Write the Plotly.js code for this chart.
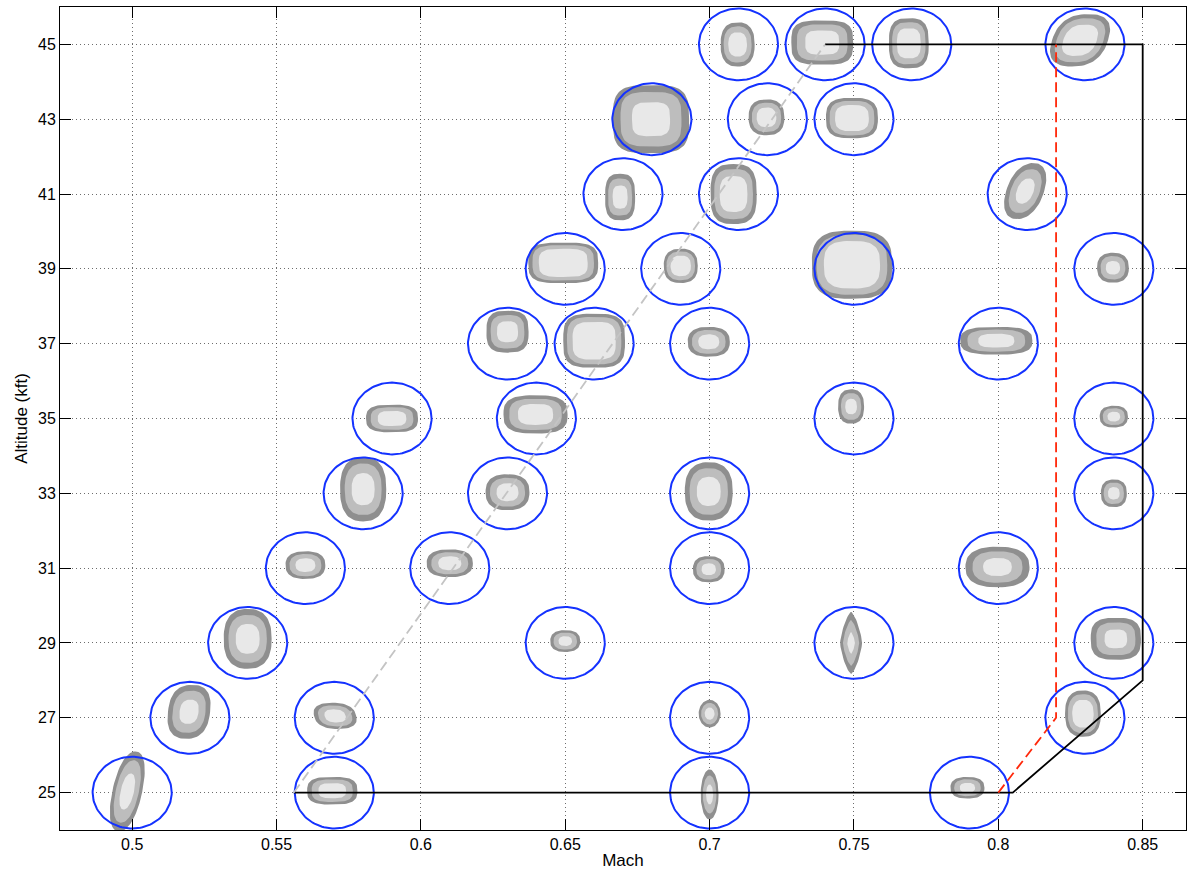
<!DOCTYPE html>
<html>
<head>
<meta charset="utf-8">
<script src="https://cdn.plot.ly/plotly-3.0.1.min.js"></script>
<style>
  html, body { margin: 0; padding: 0; background: #fff; }
  #chart { width: 1190px; height: 870px; }
</style>
</head>
<body>
<div id="chart"></div>
<script>
// Test points of the flight-test matrix (Mach, altitude in kft)
const pointMach = [0.50, 0.57, 0.70, 0.79,
                   0.52, 0.57, 0.70, 0.83,
                   0.54, 0.65, 0.75, 0.84,
                   0.56, 0.61, 0.70, 0.80,
                   0.58, 0.63, 0.70, 0.84,
                   0.59, 0.64, 0.75, 0.84,
                   0.63, 0.66, 0.70, 0.80,
                   0.65, 0.69, 0.75, 0.84,
                   0.67, 0.71, 0.81,
                   0.68, 0.72, 0.75,
                   0.71, 0.74, 0.77, 0.83];
const pointAlt  = [25, 25, 25, 25,
                   27, 27, 27, 27,
                   29, 29, 29, 29,
                   31, 31, 31, 31,
                   33, 33, 33, 33,
                   35, 35, 35, 35,
                   37, 37, 37, 37,
                   39, 39, 39, 39,
                   41, 41, 41,
                   43, 43, 43,
                   45, 45, 45, 45];

// Flown-condition scatter around each test point: centre offset and half spread
const offMach = [-0.0017, -0.0007, 0, -0.0007,
                 -0.0003, 0.0003, 0, -0.0007,
                 0, 0, -0.0010, 0.0007,
                 0, 0, -0.0003, -0.0003,
                 0, 0, -0.0003, 0,
                 0, -0.0003, -0.0010, 0,
                 0, 0, -0.0003, -0.0007,
                 -0.0007, 0, -0.0007, -0.0003,
                 -0.0010, -0.0017, -0.0007,
                 -0.0003, -0.0003, -0.0007,
                 -0.0003, -0.0010, -0.0010, -0.0017];
const offAlt = [0.03, 0.05, -0.05, 0.13,
                0.16, 0.05, 0.11, 0.11,
                0.11, 0.05, 0, 0.11,
                0.08, 0.13, -0.03, 0.03,
                0.11, 0.03, 0.05, 0,
                0, 0.11, 0.32, 0.05,
                0.32, 0.08, 0.05, 0.08,
                0.16, 0.08, 0.11, 0.03,
                -0.08, 0, 0.08,
                0, 0.05, 0.03,
                0, 0.05, 0.03, 0.11];
const spreadMach = [0.0052, 0.0087, 0.0031, 0.0059,
                    0.0073, 0.0073, 0.0038, 0.0062,
                    0.0083, 0.0052, 0.0038, 0.0087,
                    0.0069, 0.0080, 0.0055, 0.0111,
                    0.0080, 0.0076, 0.0083, 0.0045,
                    0.0090, 0.0111, 0.0045, 0.0049,
                    0.0073, 0.0107, 0.0073, 0.0125,
                    0.0121, 0.0059, 0.0139, 0.0055,
                    0.0052, 0.0080, 0.0066,
                    0.0132, 0.0062, 0.0090,
                    0.0059, 0.0107, 0.0069, 0.0097];
const spreadAlt = [1.07, 0.37, 0.67, 0.29,
                   0.72, 0.35, 0.37, 0.62,
                   0.80, 0.29, 0.83, 0.56,
                   0.37, 0.37, 0.35, 0.54,
                   0.86, 0.48, 0.78, 0.37,
                   0.37, 0.51, 0.46, 0.29,
                   0.56, 0.72, 0.40, 0.37,
                   0.54, 0.46, 0.91, 0.40,
                   0.62, 0.80, 0.75,
                   0.91, 0.48, 0.54,
                   0.59, 0.59, 0.67, 0.70];
// Share of the spread held by the densest band
const coreFrac = [0.45, 0.55, 0.40, 0.45,
                  0.45, 0.50, 0.45, 0.60,
                  0.50, 0.45, 0.35, 0.45,
                  0.50, 0.50, 0.45, 0.45,
                  0.50, 0.50, 0.50, 0.45,
                  0.55, 0.55, 0.45, 0.45,
                  0.50, 0.70, 0.50, 0.50,
                  0.70, 0.60, 0.70, 0.45,
                  0.50, 0.60, 0.45,
                  0.50, 0.55, 0.65,
                  0.55, 0.55, 0.60, 0.60];
// Mach drift across the altitude band of a point
const leanMach = [0.0028, 0, 0, 0,
                  0.0010, -0.0010, 0, 0,
                  0, 0, 0, 0,
                  0, 0, 0, 0,
                  0, 0, 0, 0,
                  0, 0, 0, 0,
                  0, 0, 0, 0,
                  0, 0, 0, 0,
                  0, 0, 0.0028,
                  0, 0, 0,
                  0, 0, 0, 0.0028];
const roundness = [2.2, 3, 2, 2.5,
                   2.5, 2.5, 2, 2.5,
                   2.5, 2.5, 1.4, 3,
                   2.5, 2.5, 2.5, 2.5,
                   2.5, 2.5, 2.5, 2.5,
                   3, 3, 2.5, 2.5,
                   3, 3.5, 2.5, 3,
                   3.5, 2.5, 3, 2.5,
                   3, 3, 2.2,
                   3.5, 2.5, 3,
                   2.5, 3.5, 3, 2.5];

// Tolerance ring round each test point
const ringMach = 0.0137;
const ringAlt = 0.96;

// Flight envelope boundary
const envMach = [0.556, 0.805, 0.85, 0.85, 0.74];
const envAlt  = [25, 25, 28, 45, 45];
// Limit line
const limMach = [0.80, 0.82, 0.82];
const limAlt  = [25, 27, 45];
// Lower-speed edge of the envelope
const edgeMach = [0.556, 0.74];
const edgeAlt  = [25, 45];

const xTicks = [0.5, 0.55, 0.6, 0.65, 0.7, 0.75, 0.8, 0.85];
const xTickText = ['0.5', '0.55', '0.6', '0.65', '0.7', '0.75', '0.8', '0.85'];
const yTicks = [25, 27, 29, 31, 33, 35, 37, 39, 41, 43, 45];

// Superellipse outline of one spread band, at a given scale of the spread
function bandOutline(i, scale, xs, ys) {
  const N = 72;
  const cx = pointMach[i] + offMach[i];
  const cy = pointAlt[i] + offAlt[i];
  const a = spreadMach[i] * scale, b = spreadAlt[i] * scale;
  const lean = leanMach[i] * scale;
  const p = 2 / roundness[i];
  for (let k = 0; k <= N; k++) {
    const t = 2 * Math.PI * k / N;
    const c = Math.cos(t), s = Math.sin(t);
    const u = Math.sign(c) * Math.pow(Math.abs(c), p);
    const v = Math.sign(s) * Math.pow(Math.abs(s), p);
    xs.push(cx + a * u + lean * v);
    ys.push(cy + b * v);
  }
  xs.push(null); ys.push(null);
}

function bandTrace(level, color) {
  const xs = [], ys = [];
  for (let i = 0; i < pointMach.length; i++) {
    const core = coreFrac[i];
    const scale = level === 0 ? 1 : level === 1 ? core + (1 - core) * 0.6 : core;
    bandOutline(i, scale, xs, ys);
  }
  return {
    x: xs, y: ys, type: 'scatter', mode: 'lines',
    fill: 'toself', fillcolor: color,
    line: { width: 0, color: color }, hoverinfo: 'skip'
  };
}

function ringTrace() {
  const xs = [], ys = [];
  const N = 120;
  for (let i = 0; i < pointMach.length; i++) {
    for (let k = 0; k <= N; k++) {
      const t = 2 * Math.PI * k / N;
      xs.push(pointMach[i] + ringMach * Math.cos(t));
      ys.push(pointAlt[i] + ringAlt * Math.sin(t));
    }
    xs.push(null); ys.push(null);
  }
  return {
    x: xs, y: ys, type: 'scatter', mode: 'lines',
    line: { color: 'rgb(20,50,255)', width: 2 }, hoverinfo: 'skip'
  };
}

const traces = [
  bandTrace(0, '#8f8f8f'),
  bandTrace(1, '#bdbdbd'),
  bandTrace(2, '#e8e8e8'),
  ringTrace(),
  { x: envMach, y: envAlt, type: 'scatter', mode: 'lines',
    line: { color: '#000', width: 1.8 }, hoverinfo: 'skip' },
  { x: limMach, y: limAlt, type: 'scatter', mode: 'lines',
    line: { color: 'rgb(255,40,10)', width: 1.8, dash: '10px,5px' }, hoverinfo: 'skip' },
  { x: edgeMach, y: edgeAlt, type: 'scatter', mode: 'lines',
    line: { color: '#c4c4c4', width: 1.8, dash: '10px,5px' }, hoverinfo: 'skip' }
];

const fontFamily = 'Liberation Sans, Arial, Helvetica, sans-serif';
const axisCommon = {
  showline: true, linecolor: '#000', linewidth: 1, mirror: 'ticks',
  ticks: 'inside', ticklen: 11, tickwidth: 1, tickcolor: '#000',
  showgrid: true, gridcolor: 'rgba(60,60,60,0.75)', gridwidth: 1, griddash: '1px,3px',
  zeroline: false,
  tickfont: { family: fontFamily, size: 16, color: '#000' }
};

const layout = {
  width: 1190, height: 870,
  margin: { l: 60, r: 4, t: 7, b: 40, autoexpand: false },
  paper_bgcolor: '#fff', plot_bgcolor: '#fff',
  showlegend: false,
  xaxis: Object.assign({}, axisCommon, {
    range: [0.475, 0.865], tickvals: xTicks, ticktext: xTickText,
    title: { text: 'Mach', standoff: 4,
             font: { family: fontFamily, size: 17, color: '#000' } }
  }),
  yaxis: Object.assign({}, axisCommon, {
    range: [24, 46], tickvals: yTicks,
    title: { text: 'Altitude (kft)', standoff: 6,
             font: { family: fontFamily, size: 17, color: '#000' } }
  })
};

Plotly.newPlot('chart', traces, layout, { staticPlot: true, displayModeBar: false });
</script>
</body>
</html>
